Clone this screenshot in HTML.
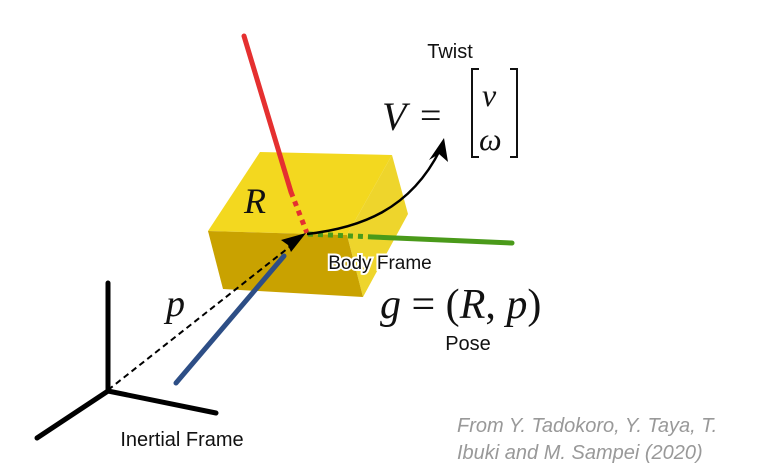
<!DOCTYPE html>
<html><head><style>body{margin:0;background:#fff}svg{display:block}</style></head><body>
<svg width="757" height="473" viewBox="0 0 757 473" xmlns="http://www.w3.org/2000/svg">
<polygon points="208,231 260,152 392,155 347,235" fill="#f3d81f"/>
<polygon points="392,155 408,214 363,297 347,235" fill="#eed52c"/>
<polygon points="208,231 347,235 363,297 223,289" fill="#c9a200"/>
<g stroke="#000" stroke-width="5" stroke-linecap="round">
<line x1="108" y1="283" x2="108" y2="391"/>
<line x1="108" y1="391" x2="37" y2="438"/>
<line x1="108" y1="391" x2="216" y2="413"/>
</g>
<line x1="244" y1="36" x2="291" y2="192" stroke="#e53030" stroke-width="5" stroke-linecap="round"/>
<line x1="291" y1="192" x2="307" y2="233" stroke="#e53030" stroke-width="5" stroke-dasharray="5,5"/>
<line x1="308" y1="234" x2="373" y2="237" stroke="#4a9a1a" stroke-width="5" stroke-dasharray="5,5"/>
<line x1="373" y1="237" x2="512" y2="243" stroke="#4a9a1a" stroke-width="5" stroke-linecap="round"/>
<line x1="176" y1="383" x2="284" y2="256" stroke="#2d4e86" stroke-width="5" stroke-linecap="round"/>
<line x1="108" y1="390" x2="292" y2="245" stroke="#000" stroke-width="2" stroke-dasharray="6,4"/>
<polygon points="306,233 281,240 288,245 291,252" fill="#000"/>
<path d="M307,234 C360,228 410,210 440,150" fill="none" stroke="#000" stroke-width="2.5"/>
<polygon points="444,138 429,160 439,154 448,162" fill="#000"/>
<g font-family="Liberation Sans, sans-serif" fill="#111">
<text x="450" y="58" font-size="20" text-anchor="middle">Twist</text>
<text x="380" y="269" font-size="19" text-anchor="middle" stroke="#fff" stroke-width="4" paint-order="stroke">Body Frame</text>
<text x="468" y="350" font-size="20" text-anchor="middle">Pose</text>
<text x="182" y="446" font-size="20" text-anchor="middle">Inertial Frame</text>
</g>
<g font-family="Liberation Sans, sans-serif" font-style="italic" fill="#999" font-size="20">
<text x="457" y="432">From Y. Tadokoro, Y. Taya, T.</text>
<text x="457" y="459">Ibuki and M. Sampei (2020)</text>
</g>
<g font-family="Liberation Serif, serif" fill="#111">
<text x="244" y="213" font-size="36" font-style="italic">R</text>
<text x="166" y="316" font-size="38" font-style="italic">p</text>
<text x="382" y="130" font-size="40" font-style="italic">V</text>
<text x="420" y="128" font-size="38">=</text>
<text x="482" y="106" font-size="32" font-style="italic">v</text>
<text x="479" y="150" font-size="32" font-style="italic">ω</text>
<text x="380" y="318" font-size="42"><tspan font-style="italic">g</tspan> = (<tspan font-style="italic">R</tspan>, <tspan font-style="italic">p</tspan>)</text>
</g>
<path d="M479,69 L472,69 L472,157 L479,157" fill="none" stroke="#111" stroke-width="2"/>
<path d="M510,69 L517,69 L517,157 L510,157" fill="none" stroke="#111" stroke-width="2"/>
</svg>
</body></html>
